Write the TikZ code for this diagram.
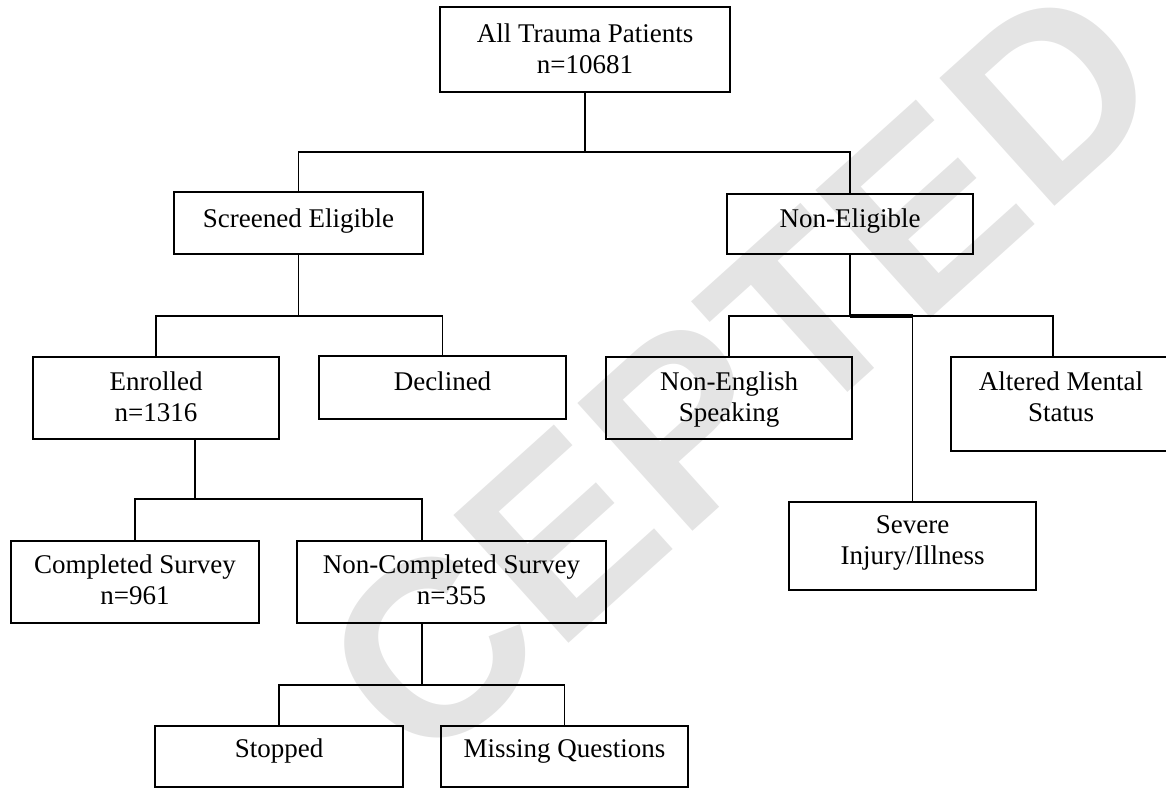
\documentclass[tikz,border=0pt]{standalone}
\usepackage{fontspec}
\setmainfont{Liberation Serif}
\newfontfamily\wmfont{Liberation Sans}
\usetikzlibrary{calc}
\definecolor{wmgray}{RGB}{228,228,228}
\newcommand\bxc[4]{\parbox[t][#2][t]{#1}{\centering\rule{0pt}{#3}#4}}
\tikzset{
 boxnode/.style={draw=black, line width=1.8pt, inner sep=0pt, outer sep=0pt, anchor=north west, font=\fontsize{27}{31}\selectfont},
 conn/.style={draw=black, line width=1.6pt},
 wm/.style={text=wmgray, font=\wmfont\bfseries\fontsize{250}{250}\selectfont, rotate=42, inner sep=0pt}
}
\begin{document}
\begin{tikzpicture}[x=1pt,y=-1pt]
\useasboundingbox (0,0) rectangle (1166,788);
\node[wm] (wm) at (742,372) {CEPTED};
\node[boxnode] (top)   at (440,7)   {\bxc{290pt}{85pt}{35pt}{All Trauma Patients\\n=10681}};
\node[boxnode] (scr)   at (174,192) {\bxc{249pt}{62pt}{35pt}{Screened Eligible}};
\node[boxnode] (nel)   at (727,194) {\bxc{246pt}{60pt}{33pt}{Non-Eligible}};
\node[boxnode] (enr)   at (33,357)  {\bxc{246pt}{82pt}{33pt}{Enrolled\\n=1316}};
\node[boxnode] (dec)   at (319,356) {\bxc{247pt}{63pt}{34pt}{Declined}};
\node[boxnode] (neng)  at (606,357) {\bxc{246pt}{82pt}{33pt}{Non-English\\Speaking}};
\node[boxnode] (alt)   at (951,357) {\bxc{220pt}{94pt}{33pt}{Altered Mental\\Status}};
\node[boxnode] (sev)   at (789,502) {\bxc{247pt}{88pt}{31pt}{Severe\\Injury/Illness}};
\node[boxnode] (comp)  at (11,541)  {\bxc{248pt}{82pt}{32pt}{Completed Survey\\n=961}};
\node[boxnode] (ncomp) at (297,541) {\bxc{309pt}{82pt}{32pt}{Non-Completed Survey\\n=355}};
\node[boxnode] (stop)  at (155,726) {\bxc{248pt}{61pt}{31pt}{Stopped}};
\node[boxnode] (miss)  at (441,726) {\bxc{247pt}{61pt}{31pt}{Missing Questions}};
% connectors
\draw[conn] (top.south) -- ++(0,60) coordinate (j1);
\draw[conn] (scr.north) |- (j1) -| (nel.north);
\draw[conn] (scr.south) -- ++(0,62) coordinate (j2);
\draw[conn] (enr.north) |- (j2) -| (dec.north);
\coordinate (e1) at ($(enr.south west)+(162,0)$);
\coordinate (ncin) at ($(ncomp.north west)+(125,0)$);
\coordinate (ncout) at ($(ncomp.south west)+(125,0)$);
\coordinate (altin) at ($(alt.north west)+(102,0)$);
\draw[conn] (e1) -- ++(0,60) coordinate (j3);
\draw[conn] (comp.north) |- (j3) -| (ncin);
\draw[conn] (ncout) -- ++(0,62) coordinate (j4);
\draw[conn] (stop.north) |- (j4) -| (miss.north);
\draw[conn] (nel.south) -- ++(0,62) coordinate (j5);
\draw[conn] (neng.north) |- (j5) -| (altin);
\draw[conn] (j5) -| (sev.north);
\draw[line width=3.2pt] (j5) -- (j5 -| sev.north);
\end{tikzpicture}
\end{document}
